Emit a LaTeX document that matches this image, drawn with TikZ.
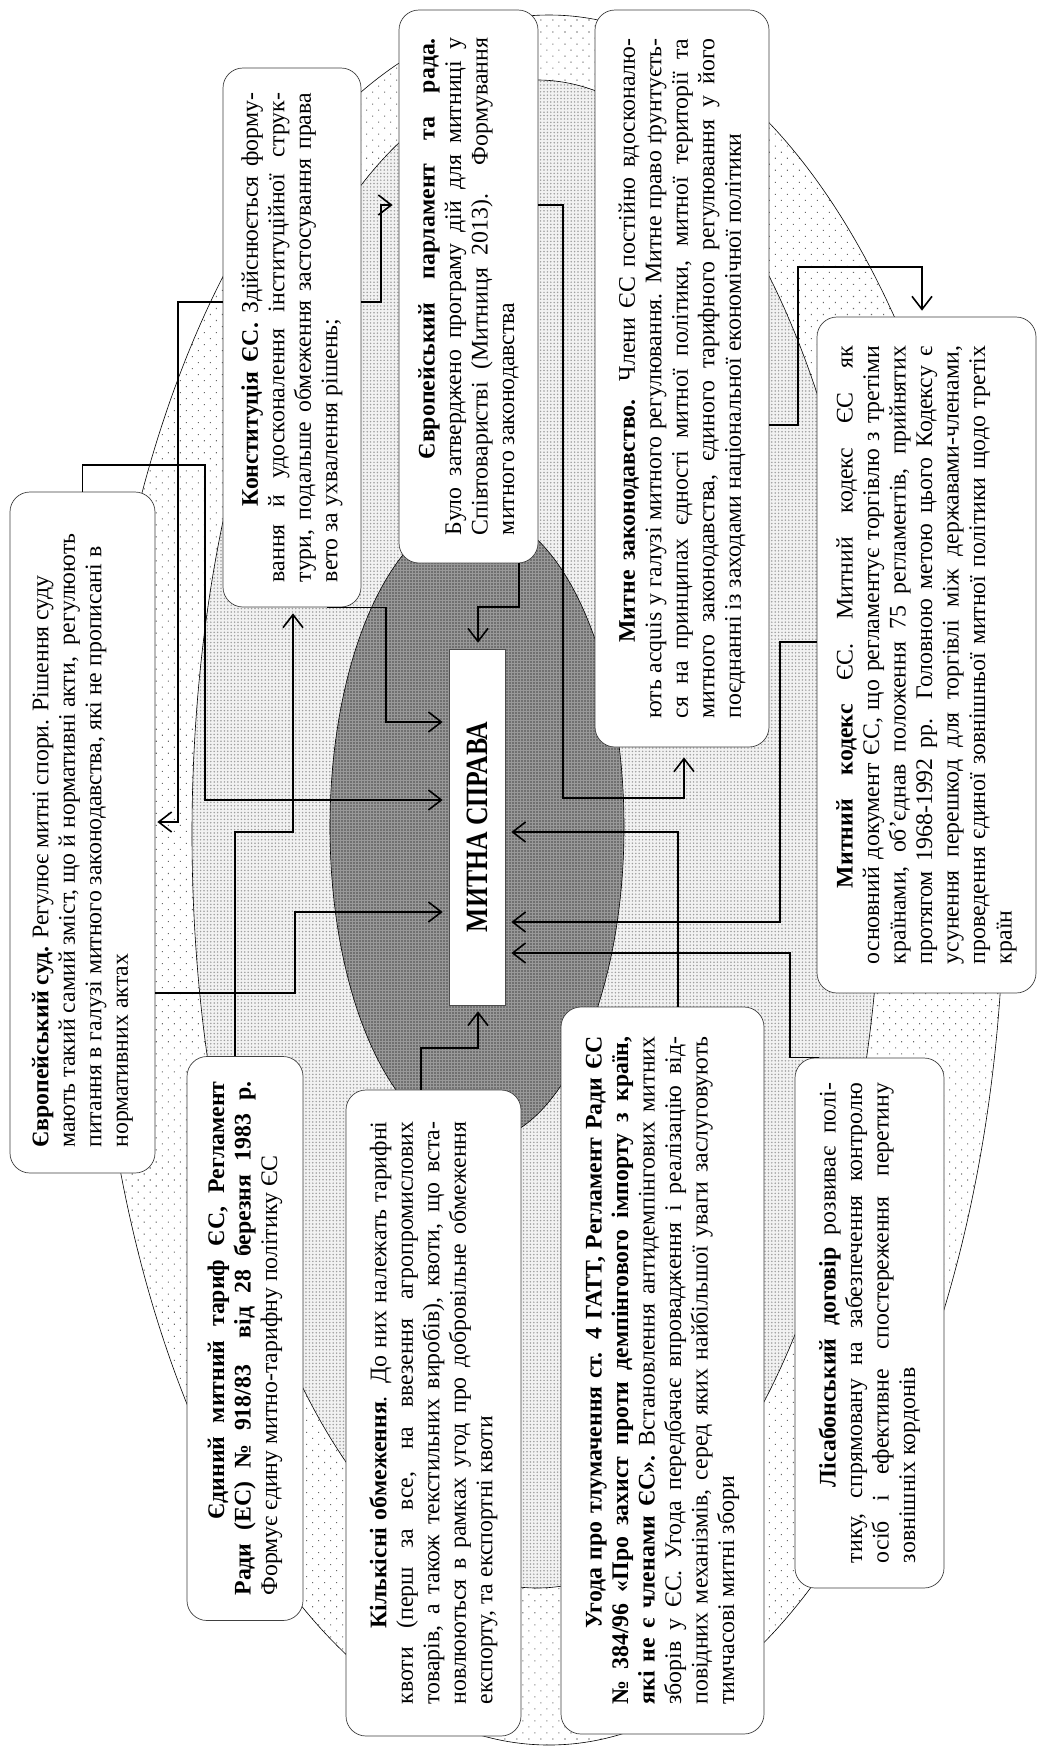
\documentclass[tikz,border=0pt]{standalone}
\usepackage{fontspec}
\setmainfont{Liberation Serif}
\usepackage{graphicx}
\usetikzlibrary{arrows.meta, patterns.meta}

% line length of the box in hand; justified line, ragged line, first-line indent
\newlength{\boxtw}
\newcommand\fullline[1]{\makebox[\boxtw][s]{#1}}
\newcommand\plainline[1]{\makebox[\boxtw][l]{#1}}
\newcommand\firstindent{\hspace*{76pt}}

\tikzset{
	line length/.code = {\setlength{\boxtw}{#1}},
	infobox/.style = {draw = black!75, fill = white, line width = 0.7pt, rounded corners = 20pt, rotate = 90, align = left, inner xsep = 25pt, inner ysep = 2pt, font = \fontsize{23.8pt}{26.5pt}\selectfont},
	outerring/.style = {line width = 0.6pt, preaction = {fill = white}, pattern = {Dots[distance = 8.5pt, angle = 45, radius = 0.75pt]}, pattern color = black!60},
	middlering/.style = {line width = 0.6pt, preaction = {fill = black!5}, pattern = {Dots[distance = 3.4pt, radius = 0.85pt]}, pattern color = black!38},
	innerring/.style = {line width = 0.6pt, preaction = {fill = black!40}, pattern = {Dots[distance = 3pt, radius = 0.8pt]}, pattern color = black!72},
	link/.style = {line width = 1.6pt, ->, shorten > = 6pt}
}

\begin{document}
\begin{tikzpicture}[x = 1pt, y = -1pt, > = {Straight Barb[length = 13pt, width = 20pt]}]

	% Page

	\fill [white] (0, 0) rectangle (1038, 1751);
	\useasboundingbox (0, 0) rectangle (1038, 1751);

	% Rings

	\draw [outerring] (549, 880) ellipse [x radius = 455pt, y radius = 865pt];
	\draw [middlering] (537, 834) ellipse [x radius = 345pt, y radius = 754pt];
	\draw [innerring] (477, 827) ellipse [x radius = 147pt, y radius = 315pt];

	% Centre

	\node (centre) [draw = black!70, fill = white, line width = 0.6pt, rotate = 90, minimum width = 356pt, minimum height = 56pt, inner sep = 0pt, font = \bfseries\fontsize{31pt}{31pt}\selectfont] at (477, 827) {\scalebox{0.83}[1]{МИТНА СПРАВА}};

	% Boxes

		% Left side

		\node (court) [infobox, line length = 630pt, minimum width = 681pt, minimum height = 145pt] at (82.5, 832.5) {%
			\plainline{\textbf{Європейський суд.} Регулює митні спори. Рішення суду}\\
			\plainline{мають такий самий зміст, що й нормативні акти,\ \ регулюють}\\
			\plainline{питання в галузі митного законодавства, які не прописані в}\\
			\plainline{нормативних актах}};

		\node (tariff) [infobox, line length = 514pt, minimum width = 561pt, minimum height = 116pt] at (245, 1338.5) {%
			\fullline{\firstindent\textbf{Єдиний митний тариф ЄС, Регламент}}\\
			\fullline{\textbf{Ради (ЕС) № 918/83\ \ від 28 березня 1983 р.}}\\
			\plainline{Формує єдину митно-тарифну політику ЄС}};

		\node (constit) [infobox, line length = 489pt, minimum width = 539pt, minimum height = 138pt] at (292, 337.5) {%
			\fullline{\firstindent\textbf{Конституція ЄС.} Здійснюється форму-}\\
			\fullline{вання й удосконалення інституційної струк-}\\
			\fullline{тури, подальше обмеження застосування права}\\
			\plainline{вето за ухвалення рішень;}};

		\node (quota) [infobox, line length = 583pt, minimum width = 646pt, minimum height = 175pt] at (433.5, 1413) {%
			\fullline{\firstindent\textbf{Кількісні обмеження}. До них належать тарифні}\\
			\fullline{квоти (перш за все, на ввезення агропромислових}\\
			\fullline{товарів, а також текстильних виробів), квоти, що вста-}\\
			\fullline{новлюються в рамках угод про добровільне обмеження}\\
			\plainline{експорту, та експортні квоти}};

		% Right side

		\node (parl) [infobox, line length = 497pt, minimum width = 553pt, minimum height = 139pt] at (468.5, 286.5) {%
			\fullline{\firstindent\textbf{Європейський парламент та рада.}}\\
			\fullline{Було затверджено програму дій для митниці у}\\
			\fullline{Співтоваристві (Митниця 2013). Формування}\\
			\plainline{митного законодавства}};

		\node (law) [infobox, line length = 680pt, minimum width = 737pt, minimum height = 174pt] at (682, 378.5) {%
			\fullline{\firstindent\textbf{Митне законодавство.} Члени ЄС постійно вдосконалю-}\\
			\fullline{ють acquis у галузі митного регулювання. Митне право ґрунтуєть-}\\
			\fullline{ся на принципах єдності митної політики, митної території та}\\
			\fullline{митного законодавства, єдиного тарифного регулювання у його}\\
			\plainline{поєднанні із заходами національної економічної політики}};

		\node (agree) [infobox, line length = 668pt, minimum width = 727pt, minimum height = 203pt] at (662.5, 1370.5) {%
			\fullline{\firstindent\textbf{Угода про тлумачення ст. 4 ГАТТ, Регламент Ради ЄС}}\\
			\fullline{\textbf{№ 384/96 «Про захист проти демпінгового імпорту з країн,}}\\
			\fullline{\textbf{які не є членами ЄС».} Встановлення антидемпінгових митних}\\
			\fullline{зборів у ЄС. Угода передбачає впровадження і реалізацію від-}\\
			\fullline{повідних механізмів, серед яких найбільшої уваги заслуговують}\\
			\plainline{тимчасові митні збори}};

		\node (code) [infobox, line length = 618pt, minimum width = 676pt, minimum height = 219pt] at (926.5, 655) {%
			\fullline{\firstindent\textbf{Митний кодекс} ЄС. Митний кодекс ЄС як}\\
			\fullline{основний документ ЄС, що регламентує торгівлю з третіми}\\
			\fullline{країнами, об’єднав положення 75 регламентів, прийнятих}\\
			\fullline{протягом 1968-1992 рр. Головною метою цього Кодексу є}\\
			\fullline{усунення перешкод для торгівлі між державами-членами,}\\
			\fullline{проведення єдиної зовнішньої митної політики щодо третіх}\\
			\plainline{країн}};

		\node (lisbon) [infobox, line length = 480pt, minimum width = 530pt, minimum height = 149pt] at (869.5, 1323) {%
			\fullline{\firstindent\textbf{Лісабонський договір} розвиває полі-}\\
			\fullline{тику, спрямовану на забезпечення контролю}\\
			\fullline{осіб і ефективне спостереження перетину}\\
			\plainline{зовнішніх кордонів}};

	% Connectors

	\begin{scope}[link]

		\draw (court.east) |- (205, 465) |- (centre.north |- 0, 800);
		\draw (court.south |- 0, 993) -| (295, 912) -- (centre.north |- 0, 912);
		\draw [shorten > = 2pt] (constit.north |- 0, 302) -| (178, 822) -- (court.south |- 0, 822);
		\draw (constit.south |- 0, 302) -| (381, 205) -- (parl.north |- 0, 205);
		\draw (tariff.east -| 235, 0) |- (293, 832) -- (constit.west -| 293, 0);
		\draw (constit.west -| 327, 0) -| (386, 722) -- (centre.north |- 0, 722);
		\draw (parl.west -| 519, 0) |- (478, 607) -- (centre.east -| 478, 0);
		\draw [shorten > = 10pt] (parl.south |- 0, 205) -| (563, 798) -| (law.west -| 684, 0);
		\draw (law.south |- 0, 425) -| (798, 267) -| (code.east -| 922, 0);
		\draw (code.north |- 0, 642) -| (780, 922) -- (centre.south |- 0, 922);
		\draw (lisbon.east -| 819, 0) -| (790, 953) -- (centre.south |- 0, 953);
		\draw (agree.east -| 678, 0) |- (centre.south |- 0, 832);
		\draw (quota.east -| 421, 0) |- (478, 1048) -- (centre.west -| 478, 0);

	\end{scope}

\end{tikzpicture}
\end{document}
